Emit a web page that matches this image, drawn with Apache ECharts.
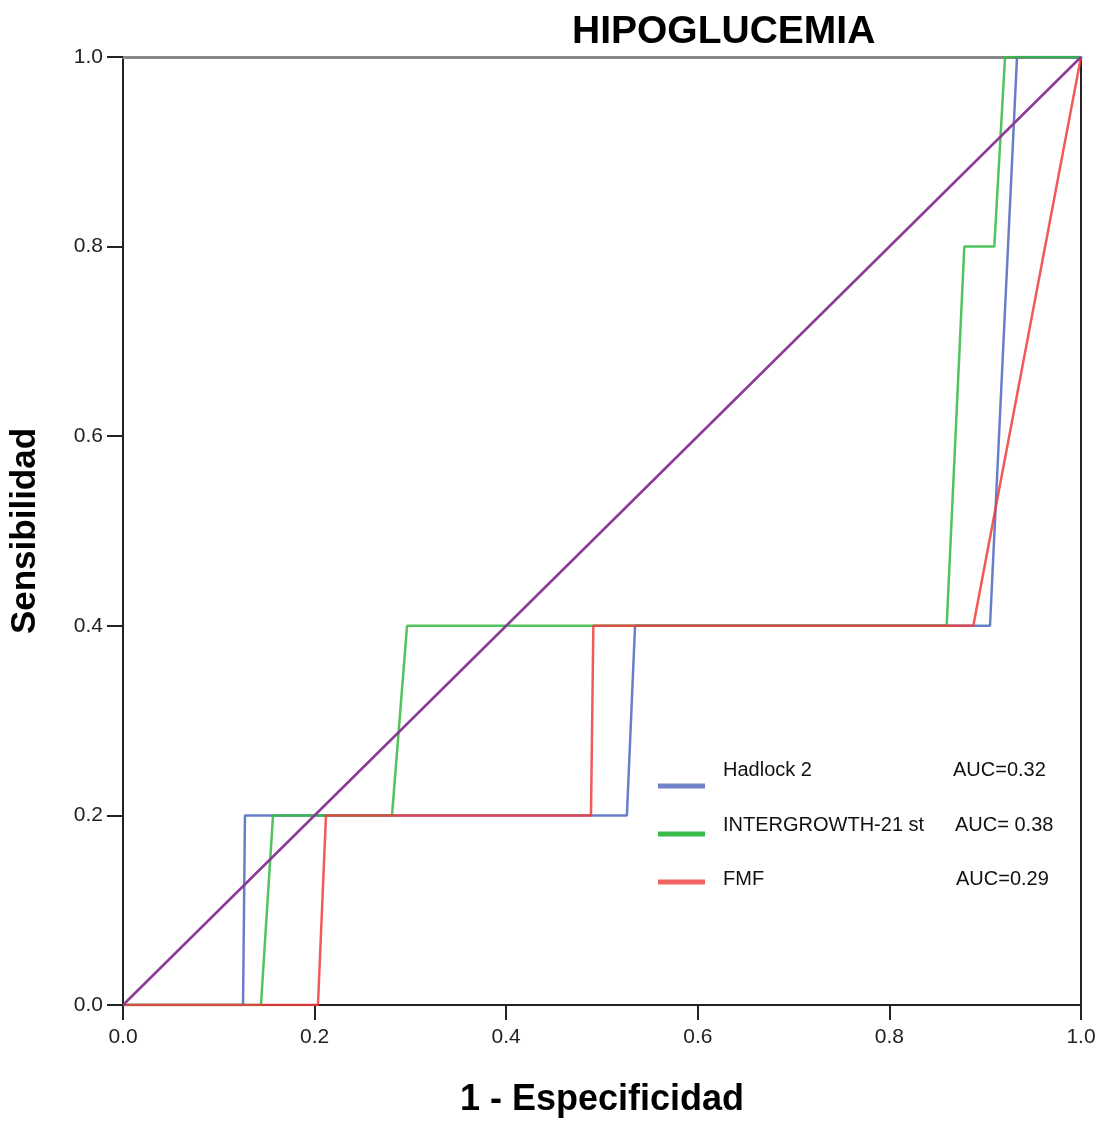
<!DOCTYPE html>
<html>
<head>
<meta charset="utf-8">
<script src="https://cdn.jsdelivr.net/npm/echarts@6/dist/echarts.min.js"></script>
<style>
html, body { margin: 0; padding: 0; background: #fff; }
#main { width: 1108px; height: 1125px; }
</style>
</head>
<body>
<div id="main"></div>
<script>
// ROC curves: [1 - especificidad, sensibilidad]
var hadlock = [[0, 0], [0.1253, 0], [0.1273, 0.2], [0.526, 0.2], [0.5345, 0.4], [0.905, 0.4], [0.9332, 1.0], [1, 1]];
var intergrowth = [[0, 0], [0.144, 0], [0.1566, 0.2], [0.2808, 0.2], [0.2965, 0.4], [0.8598, 0.4], [0.8782, 0.8], [0.9095, 0.8], [0.9207, 1.0], [1, 1]];
var fmf = [[0, 0], [0.2035, 0], [0.2119, 0.2], [0.4885, 0.2], [0.491, 0.4], [0.8876, 0.4], [1, 1]];
var diagonal = [[0, 0], [1, 1]];

var names = ['Hadlock 2', 'INTERGROWTH-21 st', 'FMF'];
var aucLabels = ['AUC=0.32', 'AUC= 0.38', 'AUC=0.29'];
var lineColors = ['#4f67c2', '#32b843', '#f03c3c'];
var swatchColors = ['#7284c8', '#3bbb4b', '#f06464'];

var font = 'Arial, "Liberation Sans", sans-serif';

var myChart = echarts.init(document.getElementById('main'));

function makeLegend(i, top, textTop, nameWidth) {
    return {
        data: [names[i]],
        orient: 'vertical',
        left: 658,
        top: top,
        padding: 0,
        icon: 'rect',
        itemWidth: 47,
        itemHeight: 5,
        itemGap: 0,
        selectedMode: false,
        itemStyle: { color: swatchColors[i] },
        formatter: function (n) {
            return '{n|' + n + '}{a|' + aucLabels[i] + '}';
        },
        textStyle: {
            fontFamily: font,
            fontSize: 20,
            color: '#111',
            padding: [0, 0, textTop, 0],
            rich: {
                n: { width: nameWidth, fontSize: 20, fontFamily: font, color: '#111', padding: [0, 0, 0, 13] },
                a: { fontSize: 20, fontFamily: font, color: '#111' }
            }
        }
    };
}

var option = {
    animation: false,
    backgroundColor: '#fff',
    title: {
        text: 'HIPOGLUCEMIA',
        left: 567,
        top: 8,
        textStyle: {
            fontFamily: font,
            fontSize: 39,
            fontWeight: 'bold',
            color: '#000'
        }
    },
    legend: [
        makeLegend(0, 760, 32, 230),
        makeLegend(1, 815, 18, 232),
        makeLegend(2, 869, 6, 233)
    ],
    grid: {
        left: 123,
        right: 27,
        top: 57,
        bottom: 120,
        outerBoundsMode: 'none',
        containLabel: false
    },
    xAxis: [{
        type: 'value',
        min: 0,
        max: 1,
        interval: 0.2,
        position: 'bottom',
        name: '1 - Especificidad',
        nameLocation: 'middle',
        nameGap: 77,
        nameTextStyle: {
            fontFamily: font,
            fontSize: 36,
            fontWeight: 'bold',
            color: '#000'
        },
        axisLine: { onZero: false, lineStyle: { color: '#222', width: 2 } },
        axisTick: { show: true, length: 15, lineStyle: { color: '#222', width: 2 } },
        axisLabel: {
            margin: 22,
            fontFamily: font,
            fontSize: 21,
            color: '#222',
            formatter: function (v) { return v.toFixed(1); }
        },
        splitLine: { show: false }
    }, {
        type: 'value',
        min: 0,
        max: 1,
        position: 'top',
        axisLine: { show: true, onZero: false, lineStyle: { color: '#888', width: 3 } },
        axisTick: { show: false },
        axisLabel: { show: false },
        splitLine: { show: false }
    }],
    yAxis: [{
        type: 'value',
        min: 0,
        max: 1,
        interval: 0.2,
        position: 'left',
        name: 'Sensibilidad',
        nameLocation: 'middle',
        nameGap: 80,
        nameTextStyle: {
            fontFamily: font,
            fontSize: 35,
            fontWeight: 'bold',
            color: '#000'
        },
        axisLine: { show: true, onZero: false, lineStyle: { color: '#222', width: 2 } },
        axisTick: { show: true, length: 16, lineStyle: { color: '#222', width: 2 } },
        axisLabel: {
            margin: 20,
            fontFamily: font,
            fontSize: 21,
            color: '#222',
            formatter: function (v) { return v.toFixed(1); }
        },
        splitLine: { show: false }
    }, {
        type: 'value',
        min: 0,
        max: 1,
        position: 'right',
        axisLine: { show: true, onZero: false, lineStyle: { color: '#222', width: 2 } },
        axisTick: { show: false },
        axisLabel: { show: false },
        splitLine: { show: false }
    }],
    series: [{
        name: names[0],
        type: 'line',
        showSymbol: false,
        data: hadlock,
        lineStyle: { color: lineColors[0], width: 2.5, opacity: 0.85 },
        itemStyle: { color: lineColors[0] }
    }, {
        name: names[1],
        type: 'line',
        showSymbol: false,
        data: intergrowth,
        lineStyle: { color: lineColors[1], width: 2.5, opacity: 0.85 },
        itemStyle: { color: lineColors[1] }
    }, {
        name: names[2],
        type: 'line',
        showSymbol: false,
        data: fmf,
        lineStyle: { color: lineColors[2], width: 2.5, opacity: 0.85 },
        itemStyle: { color: lineColors[2] }
    }, {
        name: 'diagonal',
        type: 'line',
        showSymbol: false,
        data: diagonal,
        lineStyle: { color: '#8b3a95', width: 2.5 },
        itemStyle: { color: '#8b3a95' }
    }]
};
myChart.setOption(option);
</script>
</body>
</html>
